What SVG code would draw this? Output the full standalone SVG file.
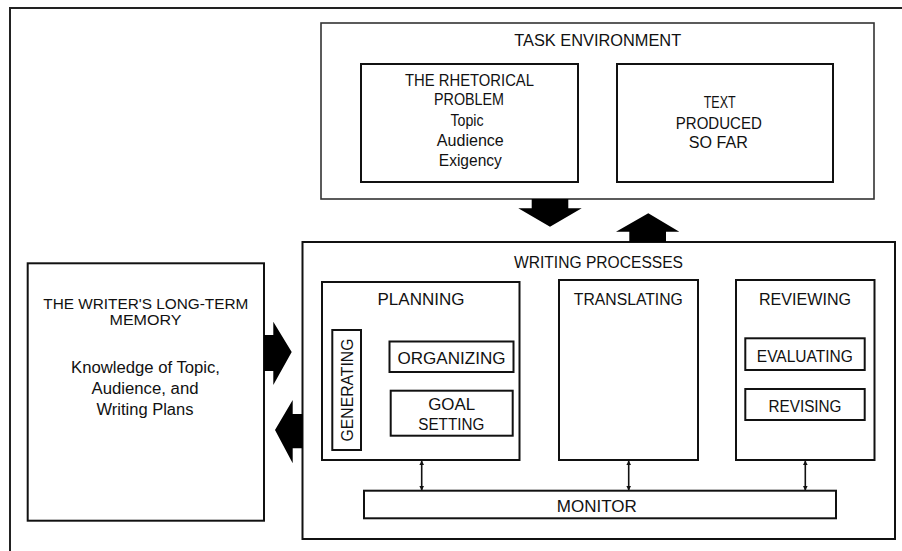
<svg xmlns="http://www.w3.org/2000/svg" width="902" height="551" viewBox="0 0 902 551">
  <style>
    .box { fill: none; stroke: #111; stroke-width: 2; }
    .thin { fill: none; stroke: #333; stroke-width: 1.6; }
    text { font-family: "Liberation Sans", Arial, sans-serif; font-size: 16px; fill: #111; text-anchor: middle; }
    .tight { font-size: 14px; }
    .block { fill: #000; }
    .link { stroke: #111; stroke-width: 1.6; fill: none; marker-start: url(#tip); marker-end: url(#tip); }
  </style>
  <defs>
    <marker id="tip" viewBox="0 0 8 8" refX="7" refY="4" markerWidth="5" markerHeight="5" orient="auto-start-reverse" markerUnits="userSpaceOnUse">
      <path d="M0,0 L8,4 L0,8 Z" fill="#111"/>
    </marker>
  </defs>
  <rect width="902" height="551" fill="#fff"/>

  <!-- outer frame -->
  <path d="M10,551 V8 H902" fill="none" stroke="#222" stroke-width="2"/>

  <g id="task-environment">
    <rect class="thin" x="321" y="23" width="553" height="176"/>
    <text x="597.7" y="46" textLength="167" lengthAdjust="spacingAndGlyphs">TASK ENVIRONMENT</text>
  </g>

  <g id="rhetorical-problem">
    <rect class="box" x="361" y="64" width="217" height="118"/>
    <text x="469.5" y="86" textLength="129" lengthAdjust="spacingAndGlyphs">THE RHETORICAL</text>
    <text x="469" y="105" textLength="70" lengthAdjust="spacingAndGlyphs">PROBLEM</text>
    <text x="467" y="126" textLength="33" lengthAdjust="spacingAndGlyphs">Topic</text>
    <text x="470.3" y="146" textLength="67" lengthAdjust="spacingAndGlyphs">Audience</text>
    <text x="470.3" y="165.5" textLength="63" lengthAdjust="spacingAndGlyphs">Exigency</text>
  </g>

  <g id="text-produced">
    <rect class="box" x="617" y="64" width="216" height="118"/>
    <text x="719.7" y="108.3" textLength="32" lengthAdjust="spacingAndGlyphs">TEXT</text>
    <text x="718.8" y="129" textLength="86" lengthAdjust="spacingAndGlyphs">PRODUCED</text>
    <text x="718.3" y="148.3" textLength="59" lengthAdjust="spacingAndGlyphs">SO FAR</text>
  </g>

  <g id="long-term-memory">
    <rect class="box" x="27.7" y="263.3" width="236.3" height="257.4"/>
    <text class="tight" x="145.8" y="308.5" textLength="205" lengthAdjust="spacingAndGlyphs">THE WRITER'S LONG-TERM</text>
    <text class="tight" x="145.5" y="324.5" textLength="72" lengthAdjust="spacingAndGlyphs">MEMORY</text>
    <text x="145.5" y="373.3" textLength="149" lengthAdjust="spacingAndGlyphs">Knowledge of Topic,</text>
    <text x="145" y="394" textLength="107" lengthAdjust="spacingAndGlyphs">Audience, and</text>
    <text x="145" y="415" textLength="97" lengthAdjust="spacingAndGlyphs">Writing Plans</text>
  </g>

  <g id="writing-processes">
    <rect class="box" x="302.5" y="242" width="592.5" height="297"/>
    <text x="598.5" y="268" textLength="169" lengthAdjust="spacingAndGlyphs">WRITING PROCESSES</text>
  </g>

  <g id="planning">
    <rect class="box" x="322" y="282" width="197.5" height="178"/>
    <text x="421" y="305" textLength="87" lengthAdjust="spacingAndGlyphs">PLANNING</text>
  </g>

  <g id="generating">
    <rect class="box" x="332.3" y="330" width="28.7" height="120"/>
    <text transform="translate(353.3,390) rotate(-90)" x="0" y="0" textLength="103" lengthAdjust="spacingAndGlyphs">GENERATING</text>
  </g>

  <g id="organizing">
    <rect class="box" x="389.5" y="341.5" width="124" height="30.5"/>
    <text x="451.5" y="363.5" textLength="108" lengthAdjust="spacingAndGlyphs">ORGANIZING</text>
  </g>

  <g id="goal-setting">
    <rect class="box" x="390.7" y="390.7" width="122" height="45"/>
    <text x="451.7" y="410" textLength="47" lengthAdjust="spacingAndGlyphs">GOAL</text>
    <text x="451.3" y="430" textLength="66" lengthAdjust="spacingAndGlyphs">SETTING</text>
  </g>

  <g id="translating">
    <rect class="box" x="559" y="280" width="139" height="180"/>
    <text x="628.3" y="305" textLength="109" lengthAdjust="spacingAndGlyphs">TRANSLATING</text>
  </g>

  <g id="reviewing">
    <rect class="box" x="736" y="280" width="138.5" height="180"/>
    <text x="805" y="305" textLength="92" lengthAdjust="spacingAndGlyphs">REVIEWING</text>
  </g>

  <g id="evaluating">
    <rect class="box" x="745.3" y="338.3" width="119.4" height="31.7"/>
    <text x="804.8" y="361.7" textLength="96" lengthAdjust="spacingAndGlyphs">EVALUATING</text>
  </g>

  <g id="revising">
    <rect class="box" x="745.3" y="389" width="119.4" height="31"/>
    <text x="805" y="411.7" textLength="73" lengthAdjust="spacingAndGlyphs">REVISING</text>
  </g>

  <g id="monitor">
    <rect class="box" x="364" y="490.7" width="472" height="27.6"/>
    <text x="596.8" y="511.7" textLength="80" lengthAdjust="spacingAndGlyphs">MONITOR</text>
  </g>

  <g id="connectors">
    <!-- task environment to writing processes -->
    <polygon class="block" points="531.7,199 568.3,199 568.3,208.3 581.7,208.3 550,226.7 518.3,208.3 531.7,208.3"/>
    <!-- writing processes back to task environment -->
    <polygon class="block" points="629.3,242 629.3,231.7 616,231.7 648.3,213.3 679.3,231.7 666,231.7 666,242"/>
    <!-- memory to writing processes -->
    <polygon class="block" points="264,335 273.3,335 273.3,321.7 291.7,352 273.3,385 273.3,371 264,371"/>
    <!-- writing processes to memory -->
    <polygon class="block" points="302.7,414 292.7,414 292.7,400 275,430 292.7,463.3 292.7,448.3 302.7,448.3"/>
    <!-- process boxes to monitor -->
    <line class="link" x1="421.7" y1="461" x2="421.7" y2="490"/>
    <line class="link" x1="628.7" y1="461" x2="628.7" y2="490"/>
    <line class="link" x1="805.3" y1="461" x2="805.3" y2="490"/>
  </g>
</svg>
